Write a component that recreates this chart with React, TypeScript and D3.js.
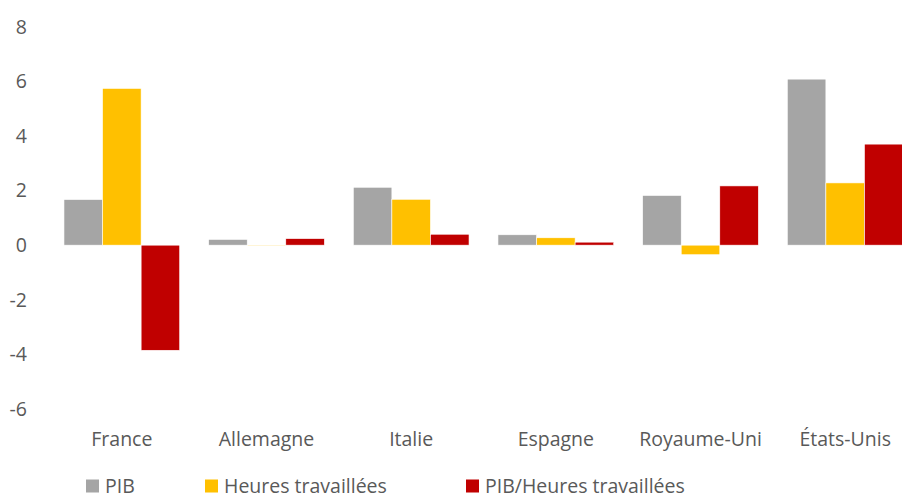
import React from "react";
import * as d3 from "d3";

const categories = ["France", "Allemagne", "Italie", "Espagne", "Royaume-Uni", "États-Unis"];
const seriesNames = ["PIB", "Heures travaillées", "PIB/Heures travaillées"];
const pib = [1.67, 0.21, 2.12, 0.38, 1.82, 6.08];
const heures = [5.74, -0.02, 1.68, 0.27, -0.35, 2.28];
const productivite = [-3.85, 0.24, 0.4, 0.11, 2.17, 3.7];
const yTicks = [-6, -4, -2, 0, 2, 4, 6, 8];
const colors = ["#A5A5A5", "#FFC000", "#C00000"];

const W = 902;
const H = 500;

export default function App() {
  const series = [pib, heures, productivite];
  const x = d3.scaleBand<string>().domain(categories).range([49.5, 917.5]).paddingInner(0.2).paddingOuter(0.1);
  const inner = d3.scaleBand<number>().domain([0, 1, 2]).range([0, x.bandwidth()]);
  const y = d3.scaleLinear().domain([-6, 8]).range([409, 26.7]);
  const font = "'Open Sans', sans-serif";
  const fs = 19.5;
  const legendX = [86, 205, 466];

  return (
    <div style={{ position: "fixed", left: 0, top: 0 }}>
      <svg width={W} height={H} style={{ display: "block", background: "#fff" }}>
        {yTicks.map((t) => (
          <text key={t} x={27} y={y(t)} dy="0.35em" textAnchor="end" fontFamily={font} fontSize={fs} fill="#595959">
            {t}
          </text>
        ))}
        {series.map((vals, si) =>
          vals.map((v, ci) => {
            const x0 = (x(categories[ci]) as number) + (inner(si) as number);
            const y0 = y(Math.max(0, v));
            const h = Math.max(0.8, Math.abs(y(v) - y(0)));
            return (
              <rect
                key={`${si}-${ci}`}
                x={x0}
                y={y0}
                width={inner.bandwidth()}
                height={h}
                fill={colors[si]}
                stroke="#fff"
                strokeWidth={0.6}
              />
            );
          })
        )}
        {categories.map((c) => (
          <text key={c} x={(x(c) as number) + x.bandwidth() / 2} y={439} dy="0.35em" textAnchor="middle" fontFamily={font} fontSize={fs} fill="#595959">
            {c}
          </text>
        ))}
        {seriesNames.map((n, i) => (
          <g key={n} transform={`translate(${legendX[i]},486)`}>
            <rect x={0} y={-6.5} width={13} height={13} fill={colors[i]} />
            <text x={19} y={0} dy="0.35em" fontFamily={font} fontSize={fs} fill="#595959">
              {n}
            </text>
          </g>
        ))}
      </svg>
    </div>
  );
}
